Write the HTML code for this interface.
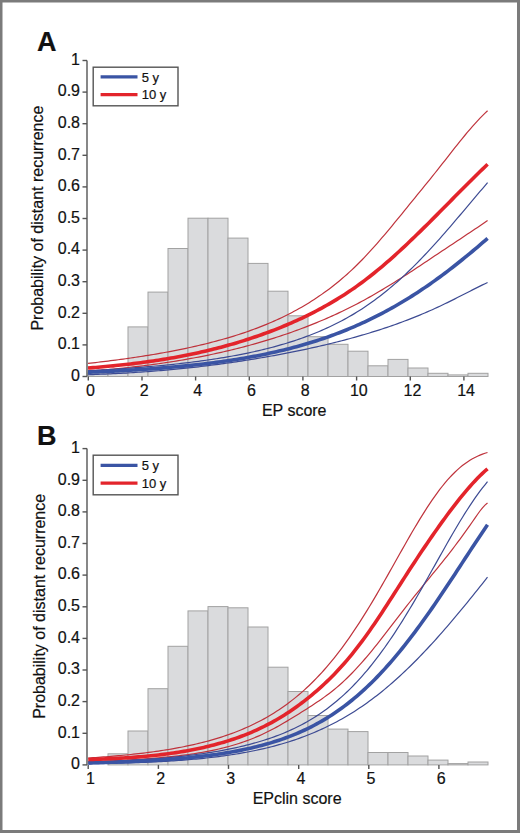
<!DOCTYPE html>
<html><head><meta charset="utf-8"><style>
html,body{margin:0;padding:0;background:#fff;}
body{width:520px;height:833px;overflow:hidden;}
svg{display:block;}
text{font-family:"Liberation Sans",sans-serif;fill:#111;stroke:#111;stroke-width:0.2px;}
.tk{font-size:16px;}
.lg{font-size:13px;}
.ax{font-size:16px;}
.xl{font-size:16px;}
.pl{font-size:27px;font-weight:bold;}
.bars rect{fill:#dadbdd;stroke:#a2a2a2;stroke-width:1;}
</style></head><body>
<svg width="520" height="833" viewBox="0 0 520 833">
<rect x="0" y="0" width="520" height="833" fill="#7b7b7b"/>
<rect x="2.5" y="2.5" width="514.5" height="827.5" fill="#fff"/>
<text x="37" y="51.2" class="pl">A</text>
<text x="37" y="444.6" class="pl">B</text>
<text transform="translate(42.7,218.1) rotate(-90)" text-anchor="middle" class="ax">Probability of distant recurrence</text>
<text transform="translate(45.4,606.35) rotate(-90)" text-anchor="middle" class="ax">Probability of distant recurrence</text>
<g class="bars"><rect x="88.0" y="373.0" width="20" height="3.5"/>
<rect x="108.0" y="373.0" width="20" height="3.5"/>
<rect x="128.0" y="326.9" width="20" height="49.6"/>
<rect x="148.0" y="292.1" width="20" height="84.4"/>
<rect x="168.0" y="248.5" width="20" height="128.0"/>
<rect x="188.0" y="218.2" width="20" height="158.3"/>
<rect x="208.0" y="218.2" width="20" height="158.3"/>
<rect x="228.0" y="238.1" width="20" height="138.4"/>
<rect x="248.0" y="263.4" width="20" height="113.1"/>
<rect x="268.0" y="291.2" width="20" height="85.3"/>
<rect x="288.0" y="315.8" width="20" height="60.7"/>
<rect x="308.0" y="336.7" width="20" height="39.8"/>
<rect x="328.0" y="344.3" width="20" height="32.2"/>
<rect x="348.0" y="351.2" width="20" height="25.3"/>
<rect x="368.0" y="365.8" width="20" height="10.7"/>
<rect x="388.0" y="359.4" width="20" height="17.1"/>
<rect x="408.0" y="368.0" width="20" height="8.5"/>
<rect x="428.0" y="373.3" width="20" height="3.2"/>
<rect x="448.0" y="374.9" width="20" height="1.6"/>
<rect x="468.0" y="373.3" width="20" height="3.2"/></g>
<path d="M88.00,363.40 L90.51,363.12 L93.03,362.84 L95.54,362.55 L98.05,362.26 L100.57,361.96 L103.08,361.66 L105.59,361.35 L108.10,361.04 L110.62,360.72 L113.13,360.40 L115.64,360.08 L118.16,359.74 L120.67,359.41 L123.18,359.06 L125.70,358.72 L128.21,358.36 L130.72,358.00 L133.23,357.64 L135.75,357.26 L138.26,356.88 L140.77,356.50 L143.29,356.11 L145.80,355.71 L148.31,355.31 L150.83,354.90 L153.34,354.48 L155.85,354.05 L158.37,353.62 L160.88,353.18 L163.39,352.73 L165.90,352.27 L168.42,351.81 L170.93,351.34 L173.44,350.85 L175.96,350.36 L178.47,349.86 L180.98,349.36 L183.50,348.84 L186.01,348.31 L188.52,347.77 L191.03,347.22 L193.55,346.67 L196.06,346.10 L198.57,345.52 L201.09,344.93 L203.60,344.32 L206.11,343.71 L208.63,343.08 L211.14,342.44 L213.65,341.79 L216.17,341.12 L218.68,340.44 L221.19,339.75 L223.70,339.04 L226.22,338.32 L228.73,337.58 L231.24,336.83 L233.76,336.06 L236.27,335.27 L238.78,334.47 L241.30,333.65 L243.81,332.81 L246.32,331.95 L248.83,331.07 L251.35,330.18 L253.86,329.26 L256.37,328.32 L258.89,327.36 L261.40,326.38 L263.91,325.38 L266.43,324.36 L268.94,323.31 L271.45,322.23 L273.97,321.13 L276.48,320.01 L278.99,318.85 L281.50,317.67 L284.02,316.47 L286.53,315.23 L289.04,313.96 L291.56,312.67 L294.07,311.34 L296.58,309.98 L299.10,308.58 L301.61,307.15 L304.12,305.69 L306.63,304.19 L309.15,302.65 L311.66,301.08 L314.17,299.46 L316.69,297.81 L319.20,296.11 L321.71,294.38 L324.23,292.60 L326.74,290.77 L329.25,288.90 L331.77,286.98 L334.28,285.02 L336.79,283.01 L339.30,280.94 L341.82,278.83 L344.33,276.66 L346.84,274.44 L349.36,272.17 L351.87,269.84 L354.38,267.46 L356.90,265.02 L359.41,262.51 L361.92,259.96 L364.43,257.34 L366.95,254.68 L369.46,251.96 L371.97,249.19 L374.49,246.38 L377.00,243.53 L379.51,240.64 L382.03,237.72 L384.54,234.77 L387.05,231.79 L389.57,228.78 L392.08,225.76 L394.59,222.72 L397.10,219.66 L399.62,216.59 L402.13,213.51 L404.64,210.42 L407.16,207.33 L409.67,204.24 L412.18,201.15 L414.70,198.06 L417.21,194.98 L419.72,191.90 L422.23,188.82 L424.75,185.73 L427.26,182.63 L429.77,179.52 L432.29,176.39 L434.80,173.25 L437.31,170.10 L439.83,166.92 L442.34,163.72 L444.85,160.51 L447.37,157.29 L449.88,154.08 L452.39,150.88 L454.90,147.69 L457.42,144.52 L459.93,141.39 L462.44,138.30 L464.96,135.25 L467.47,132.24 L469.98,129.30 L472.50,126.42 L475.01,123.61 L477.52,120.87 L480.03,118.21 L482.55,115.63 L485.06,113.13 L487.57,110.73" stroke="#bf333c" stroke-width="1.2" fill="none"/>
<path d="M88.00,371.15 L90.51,370.97 L93.03,370.77 L95.54,370.58 L98.05,370.37 L100.57,370.17 L103.08,369.95 L105.59,369.74 L108.10,369.51 L110.62,369.28 L113.13,369.05 L115.64,368.81 L118.16,368.56 L120.67,368.31 L123.18,368.05 L125.70,367.78 L128.21,367.51 L130.72,367.23 L133.23,366.95 L135.75,366.66 L138.26,366.36 L140.77,366.06 L143.29,365.75 L145.80,365.43 L148.31,365.11 L150.83,364.78 L153.34,364.44 L155.85,364.10 L158.37,363.74 L160.88,363.38 L163.39,363.02 L165.90,362.64 L168.42,362.26 L170.93,361.87 L173.44,361.47 L175.96,361.07 L178.47,360.65 L180.98,360.23 L183.50,359.80 L186.01,359.36 L188.52,358.92 L191.03,358.46 L193.55,358.00 L196.06,357.53 L198.57,357.05 L201.09,356.56 L203.60,356.06 L206.11,355.55 L208.63,355.04 L211.14,354.51 L213.65,353.98 L216.17,353.44 L218.68,352.88 L221.19,352.32 L223.70,351.75 L226.22,351.17 L228.73,350.57 L231.24,349.97 L233.76,349.36 L236.27,348.74 L238.78,348.10 L241.30,347.46 L243.81,346.81 L246.32,346.14 L248.83,345.47 L251.35,344.78 L253.86,344.08 L256.37,343.38 L258.89,342.66 L261.40,341.92 L263.91,341.18 L266.43,340.43 L268.94,339.66 L271.45,338.88 L273.97,338.09 L276.48,337.29 L278.99,336.47 L281.50,335.64 L284.02,334.80 L286.53,333.95 L289.04,333.08 L291.56,332.20 L294.07,331.30 L296.58,330.40 L299.10,329.47 L301.61,328.54 L304.12,327.59 L306.63,326.62 L309.15,325.64 L311.66,324.65 L314.17,323.64 L316.69,322.61 L319.20,321.57 L321.71,320.52 L324.23,319.45 L326.74,318.36 L329.25,317.25 L331.77,316.13 L334.28,314.99 L336.79,313.84 L339.30,312.66 L341.82,311.47 L344.33,310.26 L346.84,309.03 L349.36,307.79 L351.87,306.52 L354.38,305.24 L356.90,303.94 L359.41,302.61 L361.92,301.27 L364.43,299.91 L366.95,298.53 L369.46,297.13 L371.97,295.71 L374.49,294.27 L377.00,292.82 L379.51,291.35 L382.03,289.86 L384.54,288.35 L387.05,286.83 L389.57,285.30 L392.08,283.75 L394.59,282.18 L397.10,280.60 L399.62,279.01 L402.13,277.41 L404.64,275.80 L407.16,274.17 L409.67,272.54 L412.18,270.89 L414.70,269.24 L417.21,267.58 L419.72,265.92 L422.23,264.25 L424.75,262.58 L427.26,260.90 L429.77,259.22 L432.29,257.54 L434.80,255.86 L437.31,254.18 L439.83,252.50 L442.34,250.83 L444.85,249.15 L447.37,247.48 L449.88,245.81 L452.39,244.14 L454.90,242.47 L457.42,240.81 L459.93,239.14 L462.44,237.47 L464.96,235.79 L467.47,234.12 L469.98,232.44 L472.50,230.76 L475.01,229.07 L477.52,227.38 L480.03,225.69 L482.55,223.98 L485.06,222.27 L487.57,220.55" stroke="#bf333c" stroke-width="1.2" fill="none"/>
<path d="M88.00,370.74 L90.51,370.61 L93.03,370.47 L95.54,370.34 L98.05,370.20 L100.57,370.05 L103.08,369.91 L105.59,369.76 L108.10,369.61 L110.62,369.45 L113.13,369.29 L115.64,369.13 L118.16,368.96 L120.67,368.80 L123.18,368.62 L125.70,368.45 L128.21,368.27 L130.72,368.08 L133.23,367.90 L135.75,367.70 L138.26,367.51 L140.77,367.31 L143.29,367.11 L145.80,366.90 L148.31,366.68 L150.83,366.47 L153.34,366.24 L155.85,366.02 L158.37,365.78 L160.88,365.55 L163.39,365.30 L165.90,365.06 L168.42,364.80 L170.93,364.55 L173.44,364.28 L175.96,364.01 L178.47,363.73 L180.98,363.45 L183.50,363.16 L186.01,362.87 L188.52,362.57 L191.03,362.26 L193.55,361.94 L196.06,361.62 L198.57,361.29 L201.09,360.95 L203.60,360.61 L206.11,360.25 L208.63,359.89 L211.14,359.52 L213.65,359.14 L216.17,358.76 L218.68,358.36 L221.19,357.95 L223.70,357.54 L226.22,357.12 L228.73,356.68 L231.24,356.24 L233.76,355.78 L236.27,355.31 L238.78,354.84 L241.30,354.35 L243.81,353.85 L246.32,353.34 L248.83,352.81 L251.35,352.27 L253.86,351.72 L256.37,351.16 L258.89,350.58 L261.40,349.99 L263.91,349.38 L266.43,348.76 L268.94,348.13 L271.45,347.48 L273.97,346.81 L276.48,346.12 L278.99,345.42 L281.50,344.70 L284.02,343.96 L286.53,343.21 L289.04,342.43 L291.56,341.64 L294.07,340.82 L296.58,339.99 L299.10,339.13 L301.61,338.26 L304.12,337.36 L306.63,336.43 L309.15,335.49 L311.66,334.52 L314.17,333.52 L316.69,332.50 L319.20,331.45 L321.71,330.38 L324.23,329.28 L326.74,328.15 L329.25,326.99 L331.77,325.80 L334.28,324.58 L336.79,323.33 L339.30,322.04 L341.82,320.72 L344.33,319.37 L346.84,317.99 L349.36,316.57 L351.87,315.11 L354.38,313.61 L356.90,312.08 L359.41,310.51 L361.92,308.89 L364.43,307.24 L366.95,305.55 L369.46,303.81 L371.97,302.03 L374.49,300.21 L377.00,298.35 L379.51,296.45 L382.03,294.50 L384.54,292.51 L387.05,290.48 L389.57,288.41 L392.08,286.29 L394.59,284.13 L397.10,281.93 L399.62,279.68 L402.13,277.39 L404.64,275.07 L407.16,272.70 L409.67,270.29 L412.18,267.84 L414.70,265.35 L417.21,262.82 L419.72,260.26 L422.23,257.66 L424.75,255.02 L427.26,252.35 L429.77,249.65 L432.29,246.91 L434.80,244.15 L437.31,241.36 L439.83,238.54 L442.34,235.70 L444.85,232.83 L447.37,229.94 L449.88,227.03 L452.39,224.11 L454.90,221.17 L457.42,218.22 L459.93,215.26 L462.44,212.29 L464.96,209.31 L467.47,206.33 L469.98,203.35 L472.50,200.38 L475.01,197.40 L477.52,194.44 L480.03,191.48 L482.55,188.54 L485.06,185.61 L487.57,182.70" stroke="#3d4b93" stroke-width="1.2" fill="none"/>
<path d="M88.00,374.75 L90.51,374.66 L93.03,374.57 L95.54,374.47 L98.05,374.37 L100.57,374.27 L103.08,374.17 L105.59,374.06 L108.10,373.94 L110.62,373.83 L113.13,373.70 L115.64,373.58 L118.16,373.45 L120.67,373.32 L123.18,373.18 L125.70,373.04 L128.21,372.89 L130.72,372.74 L133.23,372.58 L135.75,372.42 L138.26,372.26 L140.77,372.09 L143.29,371.92 L145.80,371.74 L148.31,371.55 L150.83,371.36 L153.34,371.17 L155.85,370.97 L158.37,370.77 L160.88,370.56 L163.39,370.35 L165.90,370.13 L168.42,369.90 L170.93,369.67 L173.44,369.44 L175.96,369.20 L178.47,368.95 L180.98,368.70 L183.50,368.45 L186.01,368.18 L188.52,367.92 L191.03,367.65 L193.55,367.37 L196.06,367.09 L198.57,366.80 L201.09,366.50 L203.60,366.20 L206.11,365.90 L208.63,365.59 L211.14,365.27 L213.65,364.95 L216.17,364.62 L218.68,364.29 L221.19,363.95 L223.70,363.61 L226.22,363.26 L228.73,362.91 L231.24,362.55 L233.76,362.18 L236.27,361.81 L238.78,361.43 L241.30,361.05 L243.81,360.66 L246.32,360.27 L248.83,359.87 L251.35,359.46 L253.86,359.05 L256.37,358.63 L258.89,358.21 L261.40,357.78 L263.91,357.35 L266.43,356.91 L268.94,356.46 L271.45,356.01 L273.97,355.55 L276.48,355.09 L278.99,354.62 L281.50,354.14 L284.02,353.66 L286.53,353.17 L289.04,352.68 L291.56,352.18 L294.07,351.67 L296.58,351.16 L299.10,350.64 L301.61,350.12 L304.12,349.58 L306.63,349.04 L309.15,348.50 L311.66,347.94 L314.17,347.38 L316.69,346.82 L319.20,346.24 L321.71,345.66 L324.23,345.07 L326.74,344.47 L329.25,343.87 L331.77,343.25 L334.28,342.63 L336.79,342.00 L339.30,341.36 L341.82,340.72 L344.33,340.06 L346.84,339.39 L349.36,338.72 L351.87,338.03 L354.38,337.34 L356.90,336.64 L359.41,335.92 L361.92,335.20 L364.43,334.46 L366.95,333.71 L369.46,332.95 L371.97,332.18 L374.49,331.40 L377.00,330.61 L379.51,329.81 L382.03,328.99 L384.54,328.16 L387.05,327.32 L389.57,326.46 L392.08,325.59 L394.59,324.71 L397.10,323.82 L399.62,322.91 L402.13,321.98 L404.64,321.05 L407.16,320.09 L409.67,319.13 L412.18,318.14 L414.70,317.15 L417.21,316.13 L419.72,315.10 L422.23,314.05 L424.75,312.99 L427.26,311.91 L429.77,310.81 L432.29,309.69 L434.80,308.56 L437.31,307.40 L439.83,306.23 L442.34,305.04 L444.85,303.83 L447.37,302.60 L449.88,301.37 L452.39,300.11 L454.90,298.85 L457.42,297.58 L459.93,296.31 L462.44,295.02 L464.96,293.74 L467.47,292.46 L469.98,291.18 L472.50,289.90 L475.01,288.63 L477.52,287.37 L480.03,286.12 L482.55,284.89 L485.06,283.68 L487.57,282.49" stroke="#3d4b93" stroke-width="1.2" fill="none"/>
<path d="M88.00,372.24 L90.51,372.14 L93.03,372.04 L95.54,371.94 L98.05,371.83 L100.57,371.72 L103.08,371.61 L105.59,371.49 L108.10,371.37 L110.62,371.25 L113.13,371.13 L115.64,371.00 L118.16,370.87 L120.67,370.74 L123.18,370.60 L125.70,370.46 L128.21,370.32 L130.72,370.17 L133.23,370.02 L135.75,369.87 L138.26,369.71 L140.77,369.55 L143.29,369.38 L145.80,369.21 L148.31,369.04 L150.83,368.86 L153.34,368.68 L155.85,368.49 L158.37,368.30 L160.88,368.10 L163.39,367.90 L165.90,367.70 L168.42,367.49 L170.93,367.27 L173.44,367.05 L175.96,366.82 L178.47,366.59 L180.98,366.36 L183.50,366.11 L186.01,365.86 L188.52,365.61 L191.03,365.35 L193.55,365.08 L196.06,364.81 L198.57,364.53 L201.09,364.24 L203.60,363.95 L206.11,363.65 L208.63,363.34 L211.14,363.02 L213.65,362.70 L216.17,362.37 L218.68,362.03 L221.19,361.69 L223.70,361.33 L226.22,360.97 L228.73,360.60 L231.24,360.22 L233.76,359.83 L236.27,359.43 L238.78,359.03 L241.30,358.61 L243.81,358.18 L246.32,357.75 L248.83,357.30 L251.35,356.85 L253.86,356.38 L256.37,355.91 L258.89,355.42 L261.40,354.92 L263.91,354.41 L266.43,353.89 L268.94,353.36 L271.45,352.81 L273.97,352.25 L276.48,351.68 L278.99,351.10 L281.50,350.51 L284.02,349.90 L286.53,349.28 L289.04,348.64 L291.56,347.99 L294.07,347.33 L296.58,346.66 L299.10,345.96 L301.61,345.26 L304.12,344.54 L306.63,343.80 L309.15,343.05 L311.66,342.28 L314.17,341.50 L316.69,340.70 L319.20,339.88 L321.71,339.04 L324.23,338.19 L326.74,337.33 L329.25,336.44 L331.77,335.54 L334.28,334.62 L336.79,333.68 L339.30,332.72 L341.82,331.74 L344.33,330.74 L346.84,329.73 L349.36,328.69 L351.87,327.64 L354.38,326.56 L356.90,325.47 L359.41,324.35 L361.92,323.21 L364.43,322.06 L366.95,320.88 L369.46,319.68 L371.97,318.46 L374.49,317.21 L377.00,315.95 L379.51,314.66 L382.03,313.35 L384.54,312.02 L387.05,310.67 L389.57,309.29 L392.08,307.89 L394.59,306.47 L397.10,305.03 L399.62,303.56 L402.13,302.07 L404.64,300.56 L407.16,299.02 L409.67,297.46 L412.18,295.88 L414.70,294.27 L417.21,292.64 L419.72,290.99 L422.23,289.32 L424.75,287.62 L427.26,285.90 L429.77,284.15 L432.29,282.39 L434.80,280.60 L437.31,278.79 L439.83,276.96 L442.34,275.10 L444.85,273.23 L447.37,271.33 L449.88,269.41 L452.39,267.47 L454.90,265.51 L457.42,263.53 L459.93,261.53 L462.44,259.51 L464.96,257.47 L467.47,255.42 L469.98,253.34 L472.50,251.25 L475.01,249.14 L477.52,247.01 L480.03,244.87 L482.55,242.71 L485.06,240.54 L487.57,238.35" stroke="#3a54a4" stroke-width="3.6" fill="none"/>
<path d="M88.00,368.04 L90.51,367.85 L93.03,367.65 L95.54,367.44 L98.05,367.23 L100.57,367.01 L103.08,366.79 L105.59,366.56 L108.10,366.32 L110.62,366.08 L113.13,365.84 L115.64,365.58 L118.16,365.32 L120.67,365.06 L123.18,364.78 L125.70,364.50 L128.21,364.21 L130.72,363.92 L133.23,363.62 L135.75,363.31 L138.26,362.99 L140.77,362.67 L143.29,362.34 L145.80,361.99 L148.31,361.65 L150.83,361.29 L153.34,360.92 L155.85,360.55 L158.37,360.16 L160.88,359.77 L163.39,359.37 L165.90,358.96 L168.42,358.53 L170.93,358.10 L173.44,357.66 L175.96,357.21 L178.47,356.75 L180.98,356.28 L183.50,355.79 L186.01,355.30 L188.52,354.79 L191.03,354.28 L193.55,353.75 L196.06,353.21 L198.57,352.66 L201.09,352.10 L203.60,351.52 L206.11,350.94 L208.63,350.34 L211.14,349.73 L213.65,349.10 L216.17,348.47 L218.68,347.82 L221.19,347.16 L223.70,346.48 L226.22,345.79 L228.73,345.09 L231.24,344.38 L233.76,343.65 L236.27,342.91 L238.78,342.15 L241.30,341.38 L243.81,340.60 L246.32,339.80 L248.83,338.99 L251.35,338.16 L253.86,337.32 L256.37,336.47 L258.89,335.60 L261.40,334.71 L263.91,333.81 L266.43,332.90 L268.94,331.97 L271.45,331.02 L273.97,330.06 L276.48,329.08 L278.99,328.08 L281.50,327.06 L284.02,326.03 L286.53,324.98 L289.04,323.91 L291.56,322.82 L294.07,321.71 L296.58,320.58 L299.10,319.43 L301.61,318.26 L304.12,317.07 L306.63,315.85 L309.15,314.62 L311.66,313.36 L314.17,312.07 L316.69,310.77 L319.20,309.44 L321.71,308.08 L324.23,306.70 L326.74,305.29 L329.25,303.86 L331.77,302.39 L334.28,300.90 L336.79,299.38 L339.30,297.84 L341.82,296.26 L344.33,294.65 L346.84,293.01 L349.36,291.34 L351.87,289.63 L354.38,287.90 L356.90,286.12 L359.41,284.32 L361.92,282.48 L364.43,280.60 L366.95,278.69 L369.46,276.74 L371.97,274.77 L374.49,272.76 L377.00,270.71 L379.51,268.64 L382.03,266.53 L384.54,264.39 L387.05,262.22 L389.57,260.03 L392.08,257.81 L394.59,255.55 L397.10,253.28 L399.62,250.98 L402.13,248.65 L404.64,246.31 L407.16,243.94 L409.67,241.55 L412.18,239.15 L414.70,236.73 L417.21,234.29 L419.72,231.84 L422.23,229.38 L424.75,226.90 L427.26,224.41 L429.77,221.91 L432.29,219.40 L434.80,216.89 L437.31,214.36 L439.83,211.83 L442.34,209.30 L444.85,206.76 L447.37,204.22 L449.88,201.67 L452.39,199.13 L454.90,196.59 L457.42,194.05 L459.93,191.52 L462.44,188.99 L464.96,186.47 L467.47,183.96 L469.98,181.45 L472.50,178.96 L475.01,176.48 L477.52,174.01 L480.03,171.55 L482.55,169.11 L485.06,166.69 L487.57,164.29" stroke="#e3242b" stroke-width="3.6" fill="none"/>
<path d="M87,60.5 V376.5" stroke="#555" stroke-width="1.4" fill="none"/>
<path d="M82.5,376.5 H87" stroke="#555" stroke-width="1.4"/>
<text x="80" y="380.8" text-anchor="end" class="tk">0</text>
<path d="M82.5,344.9 H87" stroke="#555" stroke-width="1.4"/>
<text x="80" y="349.2" text-anchor="end" class="tk">0.1</text>
<path d="M82.5,313.3 H87" stroke="#555" stroke-width="1.4"/>
<text x="80" y="317.6" text-anchor="end" class="tk">0.2</text>
<path d="M82.5,281.7 H87" stroke="#555" stroke-width="1.4"/>
<text x="80" y="286.0" text-anchor="end" class="tk">0.3</text>
<path d="M82.5,250.1 H87" stroke="#555" stroke-width="1.4"/>
<text x="80" y="254.4" text-anchor="end" class="tk">0.4</text>
<path d="M82.5,218.5 H87" stroke="#555" stroke-width="1.4"/>
<text x="80" y="222.8" text-anchor="end" class="tk">0.5</text>
<path d="M82.5,186.9 H87" stroke="#555" stroke-width="1.4"/>
<text x="80" y="191.2" text-anchor="end" class="tk">0.6</text>
<path d="M82.5,155.3 H87" stroke="#555" stroke-width="1.4"/>
<text x="80" y="159.6" text-anchor="end" class="tk">0.7</text>
<path d="M82.5,123.7 H87" stroke="#555" stroke-width="1.4"/>
<text x="80" y="128.0" text-anchor="end" class="tk">0.8</text>
<path d="M82.5,92.1 H87" stroke="#555" stroke-width="1.4"/>
<text x="80" y="96.4" text-anchor="end" class="tk">0.9</text>
<path d="M82.5,60.5 H87" stroke="#555" stroke-width="1.4"/>
<text x="80" y="64.8" text-anchor="end" class="tk">1</text>
<path d="M88.3,376.5 V380.5" stroke="#555" stroke-width="1.4"/>
<text x="90.5" y="395.5" text-anchor="middle" class="tk">0</text>
<path d="M142.0,376.5 V380.5" stroke="#555" stroke-width="1.4"/>
<text x="144.2" y="395.5" text-anchor="middle" class="tk">2</text>
<path d="M195.6,376.5 V380.5" stroke="#555" stroke-width="1.4"/>
<text x="197.8" y="395.5" text-anchor="middle" class="tk">4</text>
<path d="M249.3,376.5 V380.5" stroke="#555" stroke-width="1.4"/>
<text x="251.5" y="395.5" text-anchor="middle" class="tk">6</text>
<path d="M302.9,376.5 V380.5" stroke="#555" stroke-width="1.4"/>
<text x="305.1" y="395.5" text-anchor="middle" class="tk">8</text>
<path d="M356.6,376.5 V380.5" stroke="#555" stroke-width="1.4"/>
<text x="358.8" y="395.5" text-anchor="middle" class="tk">10</text>
<path d="M410.3,376.5 V380.5" stroke="#555" stroke-width="1.4"/>
<text x="412.5" y="395.5" text-anchor="middle" class="tk">12</text>
<path d="M463.9,376.5 V380.5" stroke="#555" stroke-width="1.4"/>
<text x="466.1" y="395.5" text-anchor="middle" class="tk">14</text>
<g class="bars"><rect x="108.0" y="753.8" width="20" height="11.1"/>
<rect x="128.0" y="731.0" width="20" height="33.9"/>
<rect x="148.0" y="688.7" width="20" height="76.2"/>
<rect x="168.0" y="646.3" width="20" height="118.6"/>
<rect x="188.0" y="610.9" width="20" height="154.0"/>
<rect x="208.0" y="606.6" width="20" height="158.3"/>
<rect x="228.0" y="607.8" width="20" height="157.1"/>
<rect x="248.0" y="627.0" width="20" height="137.9"/>
<rect x="268.0" y="667.2" width="20" height="97.7"/>
<rect x="288.0" y="691.5" width="20" height="73.4"/>
<rect x="308.0" y="715.5" width="20" height="49.4"/>
<rect x="328.0" y="729.1" width="20" height="35.8"/>
<rect x="348.0" y="731.6" width="20" height="33.3"/>
<rect x="368.0" y="752.5" width="20" height="12.4"/>
<rect x="388.0" y="752.5" width="20" height="12.4"/>
<rect x="408.0" y="756.0" width="20" height="8.9"/>
<rect x="428.0" y="760.1" width="20" height="4.8"/>
<rect x="448.0" y="763.6" width="20" height="1.3"/>
<rect x="468.0" y="762.0" width="20" height="2.9"/></g>
<path d="M88.20,758.02 L90.71,757.86 L93.22,757.69 L95.73,757.52 L98.25,757.34 L100.76,757.16 L103.27,756.97 L105.78,756.77 L108.29,756.57 L110.80,756.37 L113.31,756.16 L115.82,755.94 L118.34,755.72 L120.85,755.48 L123.36,755.25 L125.87,755.00 L128.38,754.75 L130.89,754.49 L133.40,754.22 L135.92,753.95 L138.43,753.66 L140.94,753.37 L143.45,753.06 L145.96,752.75 L148.47,752.43 L150.98,752.10 L153.49,751.76 L156.01,751.41 L158.52,751.04 L161.03,750.67 L163.54,750.28 L166.05,749.89 L168.56,749.48 L171.07,749.05 L173.59,748.62 L176.10,748.16 L178.61,747.70 L181.12,747.22 L183.63,746.73 L186.14,746.21 L188.65,745.69 L191.17,745.14 L193.68,744.58 L196.19,744.00 L198.70,743.41 L201.21,742.79 L203.72,742.15 L206.23,741.50 L208.74,740.82 L211.26,740.12 L213.77,739.39 L216.28,738.65 L218.79,737.88 L221.30,737.08 L223.81,736.26 L226.32,735.41 L228.84,734.54 L231.35,733.64 L233.86,732.70 L236.37,731.74 L238.88,730.74 L241.39,729.72 L243.90,728.66 L246.41,727.56 L248.93,726.43 L251.44,725.27 L253.95,724.06 L256.46,722.82 L258.97,721.54 L261.48,720.22 L263.99,718.85 L266.51,717.44 L269.02,715.98 L271.53,714.48 L274.04,712.93 L276.55,711.33 L279.06,709.69 L281.57,707.98 L284.08,706.23 L286.60,704.42 L289.11,702.56 L291.62,700.63 L294.13,698.65 L296.64,696.61 L299.15,694.51 L301.66,692.34 L304.18,690.11 L306.69,687.81 L309.20,685.44 L311.71,683.01 L314.22,680.50 L316.73,677.92 L319.24,675.27 L321.76,672.55 L324.27,669.75 L326.78,666.88 L329.29,663.93 L331.80,660.90 L334.31,657.80 L336.82,654.61 L339.33,651.36 L341.85,648.02 L344.36,644.61 L346.87,641.12 L349.38,637.55 L351.89,633.91 L354.40,630.20 L356.91,626.42 L359.43,622.56 L361.94,618.64 L364.45,614.65 L366.96,610.60 L369.47,606.49 L371.98,602.32 L374.49,598.10 L377.00,593.83 L379.52,589.52 L382.03,585.17 L384.54,580.78 L387.05,576.36 L389.56,571.92 L392.07,567.47 L394.58,563.00 L397.10,558.54 L399.61,554.07 L402.12,549.62 L404.63,545.18 L407.14,540.78 L409.65,536.40 L412.16,532.07 L414.67,527.79 L417.19,523.57 L419.70,519.42 L422.21,515.34 L424.72,511.34 L427.23,507.43 L429.74,503.61 L432.25,499.91 L434.77,496.31 L437.28,492.83 L439.79,489.48 L442.30,486.25 L444.81,483.16 L447.32,480.21 L449.83,477.41 L452.35,474.74 L454.86,472.23 L457.37,469.87 L459.88,467.66 L462.39,465.59 L464.90,463.68 L467.41,461.91 L469.92,460.28 L472.44,458.80 L474.95,457.45 L477.46,456.23 L479.97,455.13 L482.48,454.15 L484.99,453.29 L487.50,452.52" stroke="#bf333c" stroke-width="1.2" fill="none"/>
<path d="M88.20,761.74 L90.71,761.66 L93.22,761.58 L95.73,761.49 L98.25,761.40 L100.76,761.30 L103.27,761.21 L105.78,761.10 L108.29,761.00 L110.80,760.89 L113.31,760.78 L115.82,760.66 L118.34,760.54 L120.85,760.42 L123.36,760.29 L125.87,760.15 L128.38,760.01 L130.89,759.87 L133.40,759.72 L135.92,759.56 L138.43,759.40 L140.94,759.23 L143.45,759.06 L145.96,758.88 L148.47,758.69 L150.98,758.49 L153.49,758.29 L156.01,758.08 L158.52,757.86 L161.03,757.64 L163.54,757.40 L166.05,757.16 L168.56,756.90 L171.07,756.64 L173.59,756.36 L176.10,756.08 L178.61,755.78 L181.12,755.47 L183.63,755.15 L186.14,754.82 L188.65,754.47 L191.17,754.11 L193.68,753.73 L196.19,753.34 L198.70,752.93 L201.21,752.50 L203.72,752.06 L206.23,751.60 L208.74,751.12 L211.26,750.61 L213.77,750.09 L216.28,749.55 L218.79,748.98 L221.30,748.39 L223.81,747.77 L226.32,747.13 L228.84,746.46 L231.35,745.76 L233.86,745.04 L236.37,744.28 L238.88,743.49 L241.39,742.66 L243.90,741.80 L246.41,740.90 L248.93,739.96 L251.44,738.99 L253.95,737.97 L256.46,736.92 L258.97,735.83 L261.48,734.69 L263.99,733.52 L266.51,732.31 L269.02,731.07 L271.53,729.78 L274.04,728.46 L276.55,727.10 L279.06,725.71 L281.57,724.29 L284.08,722.84 L286.60,721.37 L289.11,719.86 L291.62,718.34 L294.13,716.80 L296.64,715.24 L299.15,713.68 L301.66,712.10 L304.18,710.52 L306.69,708.92 L309.20,707.31 L311.71,705.69 L314.22,704.04 L316.73,702.36 L319.24,700.65 L321.76,698.91 L324.27,697.13 L326.78,695.29 L329.29,693.41 L331.80,691.46 L334.31,689.44 L336.82,687.35 L339.33,685.18 L341.85,682.94 L344.36,680.62 L346.87,678.22 L349.38,675.76 L351.89,673.22 L354.40,670.61 L356.91,667.93 L359.43,665.19 L361.94,662.37 L364.45,659.50 L366.96,656.57 L369.47,653.58 L371.98,650.54 L374.49,647.45 L377.00,644.32 L379.52,641.15 L382.03,637.95 L384.54,634.72 L387.05,631.47 L389.56,628.20 L392.07,624.92 L394.58,621.63 L397.10,618.36 L399.61,615.09 L402.12,611.84 L404.63,608.61 L407.14,605.41 L409.65,602.25 L412.16,599.11 L414.67,595.99 L417.19,592.89 L419.70,589.81 L422.21,586.74 L424.72,583.67 L427.23,580.61 L429.74,577.55 L432.25,574.49 L434.77,571.41 L437.28,568.33 L439.79,565.22 L442.30,562.09 L444.81,558.94 L447.32,555.76 L449.83,552.54 L452.35,549.29 L454.86,546.00 L457.37,542.67 L459.88,539.29 L462.39,535.87 L464.90,532.41 L467.41,528.90 L469.92,525.34 L472.44,521.75 L474.95,518.11 L477.46,514.48 L479.97,511.00 L482.48,507.83 L484.99,505.13 L487.50,503.04" stroke="#bf333c" stroke-width="1.2" fill="none"/>
<path d="M88.20,762.25 L90.71,762.17 L93.22,762.08 L95.73,761.99 L98.25,761.90 L100.76,761.81 L103.27,761.71 L105.78,761.61 L108.29,761.50 L110.80,761.39 L113.31,761.28 L115.82,761.17 L118.34,761.05 L120.85,760.92 L123.36,760.80 L125.87,760.66 L128.38,760.53 L130.89,760.39 L133.40,760.24 L135.92,760.09 L138.43,759.93 L140.94,759.77 L143.45,759.61 L145.96,759.43 L148.47,759.26 L150.98,759.07 L153.49,758.88 L156.01,758.69 L158.52,758.49 L161.03,758.28 L163.54,758.06 L166.05,757.84 L168.56,757.61 L171.07,757.37 L173.59,757.12 L176.10,756.87 L178.61,756.61 L181.12,756.34 L183.63,756.06 L186.14,755.77 L188.65,755.47 L191.17,755.16 L193.68,754.85 L196.19,754.52 L198.70,754.18 L201.21,753.83 L203.72,753.47 L206.23,753.10 L208.74,752.71 L211.26,752.31 L213.77,751.90 L216.28,751.48 L218.79,751.04 L221.30,750.59 L223.81,750.12 L226.32,749.64 L228.84,749.15 L231.35,748.63 L233.86,748.10 L236.37,747.56 L238.88,746.99 L241.39,746.41 L243.90,745.81 L246.41,745.19 L248.93,744.55 L251.44,743.89 L253.95,743.20 L256.46,742.49 L258.97,741.76 L261.48,741.01 L263.99,740.23 L266.51,739.42 L269.02,738.59 L271.53,737.72 L274.04,736.83 L276.55,735.91 L279.06,734.95 L281.57,733.96 L284.08,732.94 L286.60,731.88 L289.11,730.79 L291.62,729.65 L294.13,728.48 L296.64,727.26 L299.15,726.01 L301.66,724.70 L304.18,723.35 L306.69,721.96 L309.20,720.51 L311.71,719.02 L314.22,717.47 L316.73,715.87 L319.24,714.21 L321.76,712.50 L324.27,710.73 L326.78,708.90 L329.29,707.01 L331.80,705.06 L334.31,703.05 L336.82,700.97 L339.33,698.83 L341.85,696.61 L344.36,694.33 L346.87,691.98 L349.38,689.56 L351.89,687.06 L354.40,684.49 L356.91,681.85 L359.43,679.13 L361.94,676.34 L364.45,673.47 L366.96,670.52 L369.47,667.50 L371.98,664.40 L374.49,661.22 L377.00,657.96 L379.52,654.63 L382.03,651.22 L384.54,647.73 L387.05,644.17 L389.56,640.53 L392.07,636.83 L394.58,633.05 L397.10,629.20 L399.61,625.29 L402.12,621.31 L404.63,617.27 L407.14,613.18 L409.65,609.03 L412.16,604.83 L414.67,600.58 L417.19,596.28 L419.70,591.95 L422.21,587.58 L424.72,583.17 L427.23,578.74 L429.74,574.29 L432.25,569.83 L434.77,565.35 L437.28,560.87 L439.79,556.40 L442.30,551.93 L444.81,547.48 L447.32,543.06 L449.83,538.67 L452.35,534.31 L454.86,530.01 L457.37,525.75 L459.88,521.56 L462.39,517.44 L464.90,513.40 L467.41,509.45 L469.92,505.58 L472.44,501.82 L474.95,498.17 L477.46,494.63 L479.97,491.21 L482.48,487.92 L484.99,484.76 L487.50,481.74" stroke="#3d4b93" stroke-width="1.2" fill="none"/>
<path d="M88.20,763.82 L90.71,763.78 L93.22,763.74 L95.73,763.70 L98.25,763.65 L100.76,763.60 L103.27,763.56 L105.78,763.50 L108.29,763.45 L110.80,763.40 L113.31,763.34 L115.82,763.28 L118.34,763.21 L120.85,763.14 L123.36,763.07 L125.87,763.00 L128.38,762.92 L130.89,762.84 L133.40,762.76 L135.92,762.67 L138.43,762.58 L140.94,762.48 L143.45,762.39 L145.96,762.28 L148.47,762.17 L150.98,762.06 L153.49,761.94 L156.01,761.82 L158.52,761.69 L161.03,761.56 L163.54,761.42 L166.05,761.28 L168.56,761.13 L171.07,760.97 L173.59,760.81 L176.10,760.64 L178.61,760.46 L181.12,760.28 L183.63,760.09 L186.14,759.89 L188.65,759.69 L191.17,759.48 L193.68,759.26 L196.19,759.03 L198.70,758.79 L201.21,758.54 L203.72,758.29 L206.23,758.02 L208.74,757.75 L211.26,757.46 L213.77,757.17 L216.28,756.86 L218.79,756.54 L221.30,756.22 L223.81,755.88 L226.32,755.52 L228.84,755.16 L231.35,754.78 L233.86,754.39 L236.37,753.99 L238.88,753.57 L241.39,753.14 L243.90,752.70 L246.41,752.24 L248.93,751.76 L251.44,751.27 L253.95,750.76 L256.46,750.24 L258.97,749.69 L261.48,749.13 L263.99,748.56 L266.51,747.96 L269.02,747.35 L271.53,746.72 L274.04,746.06 L276.55,745.39 L279.06,744.69 L281.57,743.98 L284.08,743.24 L286.60,742.48 L289.11,741.70 L291.62,740.89 L294.13,740.06 L296.64,739.20 L299.15,738.32 L301.66,737.42 L304.18,736.49 L306.69,735.53 L309.20,734.54 L311.71,733.53 L314.22,732.48 L316.73,731.41 L319.24,730.31 L321.76,729.17 L324.27,728.01 L326.78,726.81 L329.29,725.58 L331.80,724.32 L334.31,723.03 L336.82,721.70 L339.33,720.33 L341.85,718.93 L344.36,717.50 L346.87,716.03 L349.38,714.52 L351.89,712.97 L354.40,711.39 L356.91,709.77 L359.43,708.11 L361.94,706.41 L364.45,704.67 L366.96,702.90 L369.47,701.09 L371.98,699.23 L374.49,697.34 L377.00,695.41 L379.52,693.43 L382.03,691.42 L384.54,689.37 L387.05,687.28 L389.56,685.15 L392.07,682.98 L394.58,680.77 L397.10,678.53 L399.61,676.24 L402.12,673.92 L404.63,671.56 L407.14,669.16 L409.65,666.73 L412.16,664.26 L414.67,661.76 L417.19,659.22 L419.70,656.65 L422.21,654.04 L424.72,651.40 L427.23,648.73 L429.74,646.03 L432.25,643.29 L434.77,640.53 L437.28,637.73 L439.79,634.91 L442.30,632.06 L444.81,629.18 L447.32,626.28 L449.83,623.36 L452.35,620.41 L454.86,617.44 L457.37,614.44 L459.88,611.43 L462.39,608.39 L464.90,605.34 L467.41,602.27 L469.92,599.18 L472.44,596.08 L474.95,592.96 L477.46,589.84 L479.97,586.70 L482.48,583.55 L484.99,580.40 L487.50,577.24" stroke="#3d4b93" stroke-width="1.2" fill="none"/>
<path d="M88.20,762.89 L90.71,762.83 L93.22,762.76 L95.73,762.70 L98.25,762.63 L100.76,762.56 L103.27,762.49 L105.78,762.42 L108.29,762.34 L110.80,762.26 L113.31,762.18 L115.82,762.09 L118.34,762.00 L120.85,761.91 L123.36,761.82 L125.87,761.72 L128.38,761.62 L130.89,761.51 L133.40,761.40 L135.92,761.29 L138.43,761.17 L140.94,761.05 L143.45,760.92 L145.96,760.79 L148.47,760.65 L150.98,760.51 L153.49,760.37 L156.01,760.22 L158.52,760.06 L161.03,759.90 L163.54,759.73 L166.05,759.55 L168.56,759.37 L171.07,759.19 L173.59,758.99 L176.10,758.79 L178.61,758.59 L181.12,758.37 L183.63,758.15 L186.14,757.92 L188.65,757.68 L191.17,757.43 L193.68,757.17 L196.19,756.91 L198.70,756.63 L201.21,756.35 L203.72,756.05 L206.23,755.74 L208.74,755.43 L211.26,755.10 L213.77,754.76 L216.28,754.41 L218.79,754.04 L221.30,753.67 L223.81,753.28 L226.32,752.87 L228.84,752.45 L231.35,752.02 L233.86,751.57 L236.37,751.11 L238.88,750.63 L241.39,750.13 L243.90,749.61 L246.41,749.08 L248.93,748.53 L251.44,747.96 L253.95,747.37 L256.46,746.75 L258.97,746.12 L261.48,745.47 L263.99,744.79 L266.51,744.09 L269.02,743.37 L271.53,742.62 L274.04,741.84 L276.55,741.04 L279.06,740.21 L281.57,739.36 L284.08,738.47 L286.60,737.56 L289.11,736.61 L291.62,735.64 L294.13,734.63 L296.64,733.58 L299.15,732.50 L301.66,731.39 L304.18,730.24 L306.69,729.06 L309.20,727.83 L311.71,726.57 L314.22,725.26 L316.73,723.92 L319.24,722.53 L321.76,721.10 L324.27,719.62 L326.78,718.10 L329.29,716.54 L331.80,714.93 L334.31,713.27 L336.82,711.56 L339.33,709.81 L341.85,708.00 L344.36,706.14 L346.87,704.23 L349.38,702.27 L351.89,700.26 L354.40,698.19 L356.91,696.07 L359.43,693.90 L361.94,691.67 L364.45,689.39 L366.96,687.05 L369.47,684.65 L371.98,682.20 L374.49,679.69 L377.00,677.13 L379.52,674.51 L382.03,671.83 L384.54,669.11 L387.05,666.32 L389.56,663.48 L392.07,660.59 L394.58,657.64 L397.10,654.65 L399.61,651.60 L402.12,648.50 L404.63,645.35 L407.14,642.16 L409.65,638.92 L412.16,635.64 L414.67,632.31 L417.19,628.93 L419.70,625.52 L422.21,622.06 L424.72,618.56 L427.23,615.03 L429.74,611.46 L432.25,607.85 L434.77,604.21 L437.28,600.54 L439.79,596.84 L442.30,593.11 L444.81,589.36 L447.32,585.58 L449.83,581.79 L452.35,577.98 L454.86,574.16 L457.37,570.32 L459.88,566.48 L462.39,562.64 L464.90,558.79 L467.41,554.95 L469.92,551.12 L472.44,547.29 L474.95,543.48 L477.46,539.70 L479.97,535.93 L482.48,532.20 L484.99,528.50 L487.50,524.84" stroke="#3a54a4" stroke-width="3.6" fill="none"/>
<path d="M88.20,759.53 L90.71,759.45 L93.22,759.37 L95.73,759.29 L98.25,759.20 L100.76,759.11 L103.27,759.01 L105.78,758.90 L108.29,758.79 L110.80,758.67 L113.31,758.55 L115.82,758.42 L118.34,758.28 L120.85,758.13 L123.36,757.98 L125.87,757.82 L128.38,757.65 L130.89,757.48 L133.40,757.30 L135.92,757.10 L138.43,756.90 L140.94,756.69 L143.45,756.47 L145.96,756.25 L148.47,756.01 L150.98,755.76 L153.49,755.50 L156.01,755.22 L158.52,754.94 L161.03,754.65 L163.54,754.34 L166.05,754.02 L168.56,753.69 L171.07,753.34 L173.59,752.98 L176.10,752.60 L178.61,752.21 L181.12,751.81 L183.63,751.39 L186.14,750.95 L188.65,750.49 L191.17,750.02 L193.68,749.54 L196.19,749.03 L198.70,748.50 L201.21,747.96 L203.72,747.40 L206.23,746.82 L208.74,746.21 L211.26,745.59 L213.77,744.95 L216.28,744.28 L218.79,743.60 L221.30,742.89 L223.81,742.16 L226.32,741.40 L228.84,740.62 L231.35,739.82 L233.86,738.98 L236.37,738.12 L238.88,737.23 L241.39,736.31 L243.90,735.36 L246.41,734.37 L248.93,733.35 L251.44,732.30 L253.95,731.21 L256.46,730.09 L258.97,728.93 L261.48,727.73 L263.99,726.49 L266.51,725.22 L269.02,723.90 L271.53,722.55 L274.04,721.15 L276.55,719.72 L279.06,718.24 L281.57,716.72 L284.08,715.16 L286.60,713.55 L289.11,711.91 L291.62,710.21 L294.13,708.48 L296.64,706.70 L299.15,704.87 L301.66,703.01 L304.18,701.09 L306.69,699.14 L309.20,697.13 L311.71,695.07 L314.22,692.97 L316.73,690.81 L319.24,688.61 L321.76,686.34 L324.27,684.02 L326.78,681.65 L329.29,679.21 L331.80,676.71 L334.31,674.15 L336.82,671.53 L339.33,668.84 L341.85,666.08 L344.36,663.25 L346.87,660.34 L349.38,657.37 L351.89,654.31 L354.40,651.18 L356.91,647.98 L359.43,644.71 L361.94,641.36 L364.45,637.94 L366.96,634.47 L369.47,630.92 L371.98,627.32 L374.49,623.67 L377.00,619.96 L379.52,616.21 L382.03,612.42 L384.54,608.59 L387.05,604.73 L389.56,600.85 L392.07,596.94 L394.58,593.03 L397.10,589.10 L399.61,585.18 L402.12,581.26 L404.63,577.35 L407.14,573.46 L409.65,569.59 L412.16,565.74 L414.67,561.92 L417.19,558.12 L419.70,554.34 L422.21,550.59 L424.72,546.87 L427.23,543.17 L429.74,539.50 L432.25,535.87 L434.77,532.26 L437.28,528.69 L439.79,525.16 L442.30,521.66 L444.81,518.21 L447.32,514.79 L449.83,511.42 L452.35,508.10 L454.86,504.83 L457.37,501.61 L459.88,498.45 L462.39,495.35 L464.90,492.32 L467.41,489.36 L469.92,486.47 L472.44,483.67 L474.95,480.95 L477.46,478.31 L479.97,475.78 L482.48,473.34 L484.99,471.01 L487.50,468.78" stroke="#e3242b" stroke-width="3.6" fill="none"/>
<path d="M87,448.6 V764.9" stroke="#555" stroke-width="1.4" fill="none"/>
<path d="M82.5,764.9 H87" stroke="#555" stroke-width="1.4"/>
<text x="80" y="769.2" text-anchor="end" class="tk">0</text>
<path d="M82.5,733.3 H87" stroke="#555" stroke-width="1.4"/>
<text x="80" y="737.6" text-anchor="end" class="tk">0.1</text>
<path d="M82.5,701.6 H87" stroke="#555" stroke-width="1.4"/>
<text x="80" y="705.9" text-anchor="end" class="tk">0.2</text>
<path d="M82.5,670.0 H87" stroke="#555" stroke-width="1.4"/>
<text x="80" y="674.3" text-anchor="end" class="tk">0.3</text>
<path d="M82.5,638.4 H87" stroke="#555" stroke-width="1.4"/>
<text x="80" y="642.7" text-anchor="end" class="tk">0.4</text>
<path d="M82.5,606.8 H87" stroke="#555" stroke-width="1.4"/>
<text x="80" y="611.1" text-anchor="end" class="tk">0.5</text>
<path d="M82.5,575.1 H87" stroke="#555" stroke-width="1.4"/>
<text x="80" y="579.4" text-anchor="end" class="tk">0.6</text>
<path d="M82.5,543.5 H87" stroke="#555" stroke-width="1.4"/>
<text x="80" y="547.8" text-anchor="end" class="tk">0.7</text>
<path d="M82.5,511.9 H87" stroke="#555" stroke-width="1.4"/>
<text x="80" y="516.2" text-anchor="end" class="tk">0.8</text>
<path d="M82.5,480.3 H87" stroke="#555" stroke-width="1.4"/>
<text x="80" y="484.6" text-anchor="end" class="tk">0.9</text>
<path d="M82.5,448.6 H87" stroke="#555" stroke-width="1.4"/>
<text x="80" y="452.9" text-anchor="end" class="tk">1</text>
<path d="M88.2,764.9 V768.9" stroke="#555" stroke-width="1.4"/>
<text x="90.4" y="783.9" text-anchor="middle" class="tk">1</text>
<path d="M158.4,764.9 V768.9" stroke="#555" stroke-width="1.4"/>
<text x="160.6" y="783.9" text-anchor="middle" class="tk">2</text>
<path d="M228.5,764.9 V768.9" stroke="#555" stroke-width="1.4"/>
<text x="230.7" y="783.9" text-anchor="middle" class="tk">3</text>
<path d="M298.7,764.9 V768.9" stroke="#555" stroke-width="1.4"/>
<text x="300.9" y="783.9" text-anchor="middle" class="tk">4</text>
<path d="M368.8,764.9 V768.9" stroke="#555" stroke-width="1.4"/>
<text x="371.0" y="783.9" text-anchor="middle" class="tk">5</text>
<path d="M438.9,764.9 V768.9" stroke="#555" stroke-width="1.4"/>
<text x="441.1" y="783.9" text-anchor="middle" class="tk">6</text>
<rect x="93.2" y="67.2" width="84.8" height="38.6" fill="#fff" stroke="#555" stroke-width="1.4"/>
<path d="M100.6,76.8 H137.5" stroke="#3a54a4" stroke-width="3.3"/>
<path d="M100.6,94.7 H137.5" stroke="#e3242b" stroke-width="3.3"/>
<text x="141.7" y="81.6" class="lg">5 y</text>
<text x="141.7" y="99.4" class="lg">10 y</text>
<rect x="93.2" y="455.2" width="84.8" height="39.6" fill="#fff" stroke="#555" stroke-width="1.4"/>
<path d="M100.6,465.3 H137.5" stroke="#3a54a4" stroke-width="3.3"/>
<path d="M100.6,483.2 H137.5" stroke="#e3242b" stroke-width="3.3"/>
<text x="141.7" y="470.1" class="lg">5 y</text>
<text x="141.7" y="487.9" class="lg">10 y</text>
<text x="294.2" y="416.0" text-anchor="middle" class="xl">EP score</text>
<text x="297.1" y="804.4" text-anchor="middle" class="xl">EPclin score</text>
</svg>
</body></html>
